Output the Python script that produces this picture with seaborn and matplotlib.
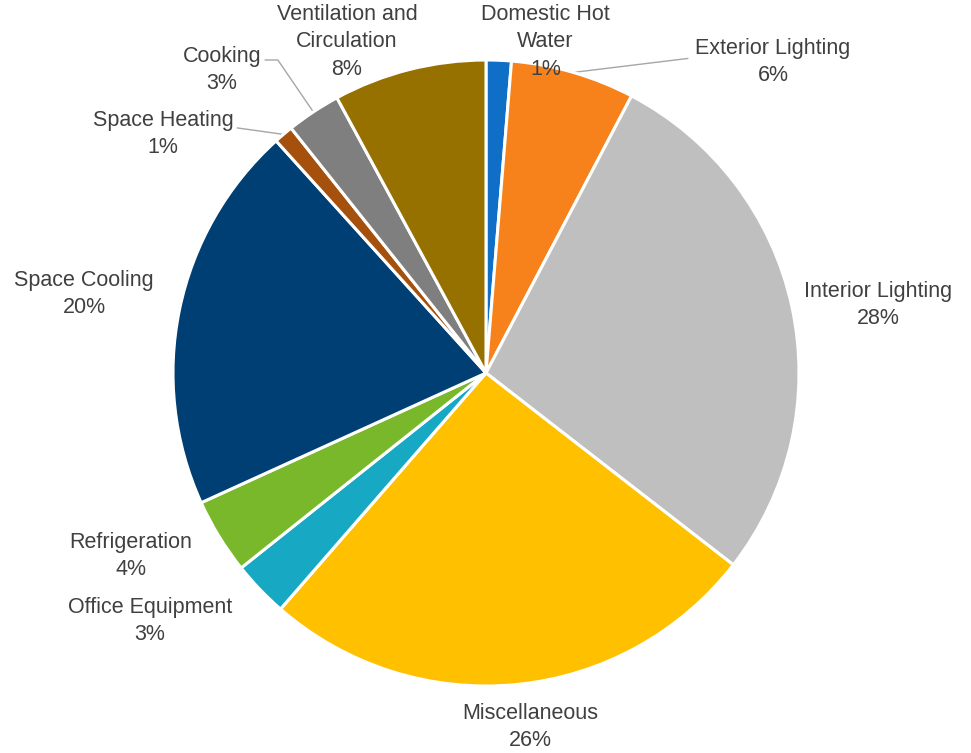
import numpy as np
import matplotlib
matplotlib.use("Agg")
import matplotlib.pyplot as plt
import seaborn as sns

# Electricity end-use shares (percent)
categories = ["Domestic Hot\nWater", "Exterior Lighting", "Interior Lighting", "Miscellaneous",
              "Office Equipment", "Refrigeration", "Space Cooling", "Space Heating",
              "Cooking", "Ventilation and\nCirculation"]
shares = [1.3, 6.4, 27.8, 25.9, 2.9, 3.9, 20.1, 1.0, 2.8, 7.9]
colors = ["#0F6FC6", "#F7821B", "#BFBFBF", "#FFC000", "#17A8C4",
          "#78B82A", "#003F74", "#A5500C", "#7F7F7F", "#977100"]

# Label centres (in pie-radius units) and leader knees
label_pos = [(0.19, 1.058), (0.917, 0.994), (1.252, 0.217), (0.141, -1.131),
             (-1.073, -0.792), (-1.134, -0.585), (-1.284, 0.252), (-1.032, 0.764),
             (-0.843, 0.968), (-0.444, 1.058)]
leaders = {1: [(0.645, 1.005)], 7: [(-0.795, 0.783)], 8: [(-0.706, 1.0), (-0.665, 1.0)]}

sns.set_theme(style="white")
plt.rcParams["font.family"] = ["Liberation Sans", "DejaVu Sans"]

W, H = 971, 753
cx, cy, R = 486, 373, 313
fig = plt.figure(figsize=(W / 100, H / 100), dpi=100)
ax = fig.add_axes([0, 0, 1, 1])

wedges, _ = ax.pie(shares, colors=colors, startangle=90, counterclock=False,
                   radius=1.0, wedgeprops=dict(edgecolor="white", linewidth=2.2))

ax.set_xlim(-cx / R, (W - cx) / R)
ax.set_ylim(-(H - cy) / R, cy / R)
ax.set_aspect("equal")
ax.axis("off")

text_color = "#404040"
for i, (w, name, val) in enumerate(zip(wedges, categories, shares)):
    x, y = label_pos[i]
    ax.text(x, y, f"{name}\n{val:.0f}%", ha="center", va="center",
            fontsize=15.5, color=text_color, linespacing=1.4)
    if i in leaders:
        mid = np.deg2rad((w.theta1 + w.theta2) / 2)
        pts = leaders[i] + [(np.cos(mid) * 1.0, np.sin(mid) * 1.0)]
        xs, ys = zip(*pts)
        ax.plot(xs, ys, color="#A6A6A6", lw=1.0, zorder=0.5)

fig.savefig("out.png", dpi=100, facecolor="white")
